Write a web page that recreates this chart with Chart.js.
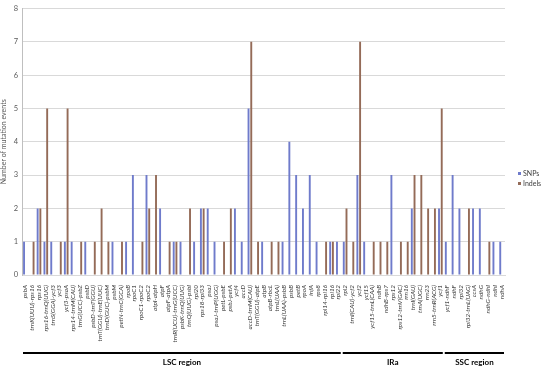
<!DOCTYPE html>
<html>
<head>
<meta charset="utf-8">
<script src="https://cdn.jsdelivr.net/npm/chart.js@4.4.1/dist/chart.umd.min.js"></script>
<style>
	body { margin: 0; background: #fff; }
	#wrap { width: 550px; height: 374px; }
</style>
</head>
<body>
<div id="wrap"><canvas id="mutationChart" width="550" height="374"></canvas></div>
<script>
// Categories (loci) in plot order
const loci = [
	'psbA', 'trnK(UUU)-rps16', 'rps16', 'rps16-trnQ(UUG)', 'trnS(GGA)-ycf3', 'ycf3', 'ycf3-psaA',
	'rps14-trnM(CAU)', 'trnG(UCC)-psbZ', 'psbD', 'psbD-trnT(GGU)', 'trnT(GGU)-trnE(UUC)', 'trnD(GUC)-psbM',
	'psbM', 'petN-trnC(GCA)', 'rpoB', 'rpoC1', 'rpoC1-rpoC2', 'rpoC2', 'atpI-atpH', 'atpF', 'atpF-atpA',
	'trnR(UCU)-trnG(UCC)', 'psbK-trnQ(UUG)', 'trnQ(UUG)-psbI', 'rpl20', 'rps18-rpl33', 'psaJ',
	'psaJ-trnP(UGG)', 'petL-psbE', 'psbJ-petA', 'ycf4', 'accD', 'accD-trnM(CAU)', 'trnT(GGU)-atpE',
	'atpB', 'atpB-rbcL', 'trnL(UAA)', 'trnL(UAA)-psbB', 'psbB', 'petB', 'rpoA', 'infA', 'rps8',
	'rpl14-rpl16', 'rpl16', 'rpl22', 'rpl2', 'trnI(CAU)-ycf2', 'ycf2', 'ycf15', 'ycf15-trnL(CAA)',
	'ndhB', 'ndhB-rps7', 'rps12', 'rps12-trnV(GAC)', 'rrn16', 'trnI(GAU)', 'trnA(UGC)', 'rrn23',
	'rrn5-trnR(ACG)', 'ycf1', 'ycf1-ndhF', 'ndhF', 'rpl32', 'rpl32-trnL(UAG)', 'ccsA', 'ndhG',
	'ndhG-ndhI', 'ndhI', 'ndhA'
];

const snps = [
	1, 0, 2, 1, 1, 0, 1, 1, 0, 1, 0, 0, 0, 1, 0, 1, 3, 0, 3, 0, 2, 0, 1, 1, 0, 1, 2, 2, 1, 0,
	0, 2, 1, 5, 0, 1, 0, 0, 1, 4, 3, 2, 3, 1, 0, 1, 1, 1, 0, 3, 1, 0, 0, 0, 3, 0, 0, 2, 0, 0,
	0, 2, 1, 3, 2, 0, 2, 2, 0, 1, 1
];

const indels = [
	0, 1, 2, 5, 0, 1, 5, 0, 1, 0, 1, 2, 1, 0, 1, 0, 0, 1, 2, 3, 0, 1, 1, 0, 2, 0, 2, 0, 0, 1,
	2, 0, 0, 7, 1, 0, 1, 1, 0, 0, 0, 0, 0, 0, 1, 1, 0, 2, 1, 7, 0, 1, 1, 1, 0, 1, 1, 3, 3, 2,
	2, 5, 0, 0, 0, 2, 0, 0, 1, 0, 0
];

const yTicks = [0, 1, 2, 3, 4, 5, 6, 7, 8];

// Genome regions: first and last locus index
const regionNames = ['LSC region', 'IRa', 'SSC region'];
const regionFrom = [0, 47, 62];
const regionTo = [46, 61, 70];

document.addEventListener('DOMContentLoaded', function() {
	const snpColor = '#6f7bcb',
		indelColor = '#946b58',
		gridColor = '#d9d9d9',
		labelColor = '#595959';

	Chart.defaults.font.family = 'Lato, "Liberation Sans", sans-serif';

	// region bars + labels under the axis, and the small legend on the right
	const extrasPlugin = {
		id: 'extras',
		afterDraw: function(chart) {
			const ctx = chart.ctx;
			const x = chart.scales.x;
			const half = (x.getPixelForValue(1) - x.getPixelForValue(0)) / 2;
			const lineY = chart.chartArea.bottom + 78;

			ctx.save();
			regionNames.forEach(function(name, i) {
				const left = x.getPixelForValue(regionFrom[i]) - half + 1;
				const right = x.getPixelForValue(regionTo[i]) + half - 1;
				ctx.strokeStyle = '#000';
				ctx.lineWidth = 2;
				ctx.beginPath();
				ctx.moveTo(left, lineY);
				ctx.lineTo(right, lineY);
				ctx.stroke();

				ctx.fillStyle = '#000';
				ctx.font = 'bold 8px Lato, sans-serif';
				ctx.textAlign = 'center';
				ctx.textBaseline = 'middle';
				ctx.fillText(name, (left + right) / 2, lineY + 9);
			});

			// legend
			const legX = chart.chartArea.right + 13;
			chart.data.datasets.forEach(function(ds, i) {
				const y = 174 + i * 10;
				ctx.fillStyle = ds.backgroundColor;
				ctx.fillRect(legX, y - 2, 3, 3);
				ctx.fillStyle = '#404040';
				ctx.font = '7px Lato, sans-serif';
				ctx.textAlign = 'left';
				ctx.textBaseline = 'middle';
				ctx.fillText(ds.label, legX + 5, y);
			});
			ctx.restore();
		}
	};

	const mutationChart = document.getElementById('mutationChart');
	if (mutationChart) {
		new Chart(mutationChart, {
			type: 'bar',
			data: {
				labels: loci,
				datasets: [
					{
						label: 'SNPs',
						data: snps,
						backgroundColor: snpColor,
						borderWidth: 0,
						categoryPercentage: 0.8,
						barPercentage: 0.7
					},
					{
						label: 'Indels',
						data: indels,
						backgroundColor: indelColor,
						borderWidth: 0,
						categoryPercentage: 0.8,
						barPercentage: 0.7
					}
				]
			},
			options: {
				responsive: false,
				animation: false,
				layout: {
					padding: { top: 7, left: 0, right: 45, bottom: 29 }
				},
				plugins: {
					legend: { display: false },
					tooltip: { enabled: false }
				},
				scales: {
					x: {
						afterFit: function(s) { s.height = 70; },
						grid: { display: false },
						border: { color: gridColor },
						ticks: {
							autoSkip: false,
							maxRotation: 90,
							minRotation: 90,
							padding: 2,
							color: '#404040',
							font: { size: 6.4, style: 'italic' }
						}
					},
					y: {
						min: yTicks[0],
						max: yTicks[yTicks.length - 1],
						afterFit: function(s) { s.width = 22; },
						afterBuildTicks: function(s) {
							s.ticks = yTicks.map(function(v) { return { value: v }; });
						},
						grid: { color: gridColor, drawTicks: false },
						border: { color: '#bfbfbf' },
						ticks: {
							padding: 4,
							color: labelColor,
							font: { size: 7.5 }
						},
						title: {
							display: true,
							text: 'Number of mutation events',
							color: labelColor,
							padding: 0,
							font: { size: 7 }
						}
					}
				}
			},
			plugins: [extrasPlugin]
		});
	}
});
</script>
</body>
</html>
